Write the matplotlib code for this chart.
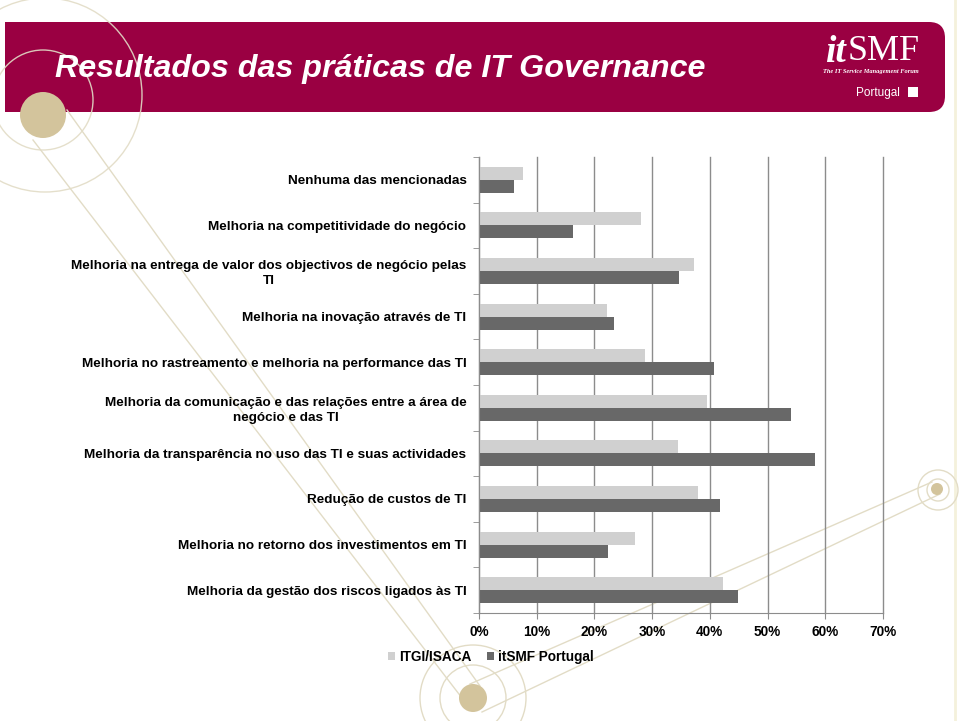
import matplotlib
matplotlib.use("Agg")
import matplotlib.pyplot as plt
from matplotlib.patches import Circle, FancyBboxPatch, Rectangle
import numpy as np

plt.rcParams['font.family'] = ['Liberation Sans', 'DejaVu Sans']

# ---- data (top to bottom) ----
categories = [
    "Nenhuma das mencionadas",
    "Melhoria na competitividade do negócio",
    "Melhoria na entrega de valor dos objectivos de negócio pelas\nTI",
    "Melhoria na inovação através de TI",
    "Melhoria no rastreamento e melhoria na performance das TI",
    "Melhoria da comunicação e das relações entre a área de\nnegócio e das TI",
    "Melhoria da transparência no uso das TI e suas actividades",
    "Redução de custos de TI",
    "Melhoria no retorno dos investimentos em TI",
    "Melhoria da gestão dos riscos ligados às TI",
]
itgi_isaca = [7.7, 28.0, 37.3, 22.2, 28.7, 39.5, 34.4, 37.9, 27.1, 42.2]
itsmf_portugal = [6.1, 16.3, 34.7, 23.4, 40.7, 54.1, 58.2, 41.7, 22.4, 44.9]
series_names = ["ITGI/ISACA", "itSMF Portugal"]
x_ticks = [0, 10, 20, 30, 40, 50, 60, 70]
x_tick_labels = ["0%", "10%", "20%", "30%", "40%", "50%", "60%", "70%"]
title = "Resultados das práticas de IT Governance"

W, H = 960, 721
fig = plt.figure(figsize=(W / 100, H / 100), dpi=100)

# ---- background / decoration ----
bg = fig.add_axes([0, 0, 1, 1])
bg.set_xlim(0, W)
bg.set_ylim(H, 0)
bg.axis('off')

crimson = '#9a0042'
tan = '#d3c49c'
deco = '#e2dcc6'

# header band (rounded right corners)
band = FancyBboxPatch((5, 22), 940, 90, boxstyle="round,pad=0,rounding_size=16",
                      fc=crimson, ec='none', zorder=1)
bg.add_patch(band)
bg.add_patch(Rectangle((5, 22), 60, 90, fc=crimson, ec='none', zorder=1))

# faint slide edge
bg.plot([955, 955], [0, H], color='#f4f1dc', lw=2, zorder=0)

# arcs top-left
bg.add_patch(Circle((43, 100), 50, fill=False, ec=deco, lw=1, alpha=0.9, zorder=2))
bg.add_patch(Circle((45, 95), 97, fill=False, ec=deco, lw=1, alpha=0.9, zorder=2))
bg.add_patch(Circle((43, 115), 23, fc=tan, ec='none', zorder=3))

# diagonal lines
bg.plot([33, 462], [140, 698], color=deco, lw=1, zorder=2)
bg.plot([67, 480], [110, 686], color=deco, lw=1, zorder=2)
bg.plot([470, 932], [684, 482], color=deco, lw=1, zorder=2)
bg.plot([482, 940], [712, 494], color=deco, lw=1, zorder=2)

# bottom circle
bg.add_patch(Circle((473, 698), 33, fill=False, ec=deco, lw=1, zorder=2))
bg.add_patch(Circle((473, 698), 53, fill=False, ec=deco, lw=1, zorder=2))
bg.add_patch(Circle((473, 698), 14, fc=tan, ec='none', zorder=3))

# right circle
bg.add_patch(Circle((938, 490), 11, fill=False, ec=deco, lw=1, zorder=2))
bg.add_patch(Circle((938, 490), 20, fill=False, ec=deco, lw=1, zorder=2))
bg.add_patch(Circle((937, 489), 6, fc=tan, ec='none', zorder=3))

# title
bg.text(55, 69, title, color='white', fontsize=23.2, fontweight='bold',
        fontstyle='italic', va='center', ha='left', zorder=5)

# logo
bg.text(825, 52, "it", color='white', fontsize=27, fontweight='bold', fontstyle='italic',
        family='Liberation Serif', va='center', ha='left', zorder=5)
bg.text(848, 52, "SMF", color='white', fontsize=26, family='Liberation Serif',
        va='center', ha='left', zorder=5)
bg.text(871, 72, "The IT Service Management Forum", color='white', fontsize=4.6,
        fontstyle='italic', fontweight='bold', family='Liberation Serif',
        va='center', ha='center', zorder=5)
bg.text(900, 93, "Portugal", color='white', fontsize=8.5, va='center', ha='right', zorder=5)
bg.add_patch(Rectangle((908, 87), 10, 10, fc='white', ec='none', zorder=5))

# ---- chart ----
left, right, top, bottom = 479, 883, 157, 613
ax = fig.add_axes([left / W, 1 - bottom / H, (right - left) / W, (bottom - top) / H])
ax.patch.set_alpha(0)

y = np.arange(len(categories))
bh = 0.285
off = 0.143
light = '#d0d0d0'
dark = '#686868'
b1 = ax.barh(y - off, itgi_isaca, height=bh, color=light, zorder=3, label=series_names[0])
b2 = ax.barh(y + off, itsmf_portugal, height=bh, color=dark, zorder=3, label=series_names[1])

ax.set_xlim(0, 70)
ax.set_ylim(len(categories) - 0.5, -0.5)

gridc = '#8c8c8c'
ax.set_xticks(x_ticks)
ax.set_xticklabels(x_tick_labels, fontsize=9.8, fontweight='bold')
ax.xaxis.grid(True, color=gridc, lw=1, zorder=1)
for gl in ax.get_xgridlines():
    gl.set_clip_on(False)
ax.tick_params(axis='x', length=4, color=gridc, pad=5)

ax.set_yticks(y)
ax.set_yticklabels(categories, fontsize=9.7, fontweight='bold', linespacing=1.3)
for lab in ax.get_yticklabels():
    lab.set_multialignment('center')
ax.set_yticks(np.arange(len(categories) + 1) - 0.5, minor=True)
ax.tick_params(axis='y', which='major', length=0, pad=9)
ax.tick_params(axis='y', which='minor', length=4, color=gridc)

for s in ['top', 'right']:
    ax.spines[s].set_visible(False)
ax.spines['left'].set_color(gridc)
ax.spines['bottom'].set_color(gridc)
ax.spines['left'].set_zorder(4)

leg = ax.legend(handles=[b1, b2], loc='center', ncol=2,
                bbox_to_anchor=(491 / W, 1 - 657 / H), bbox_transform=fig.transFigure,
                frameon=False, prop={'weight': 'bold', 'size': 9.8},
                handlelength=0.5, handleheight=0.5, handletextpad=0.3, columnspacing=1.2)

fig.savefig("out.png", dpi=100)
